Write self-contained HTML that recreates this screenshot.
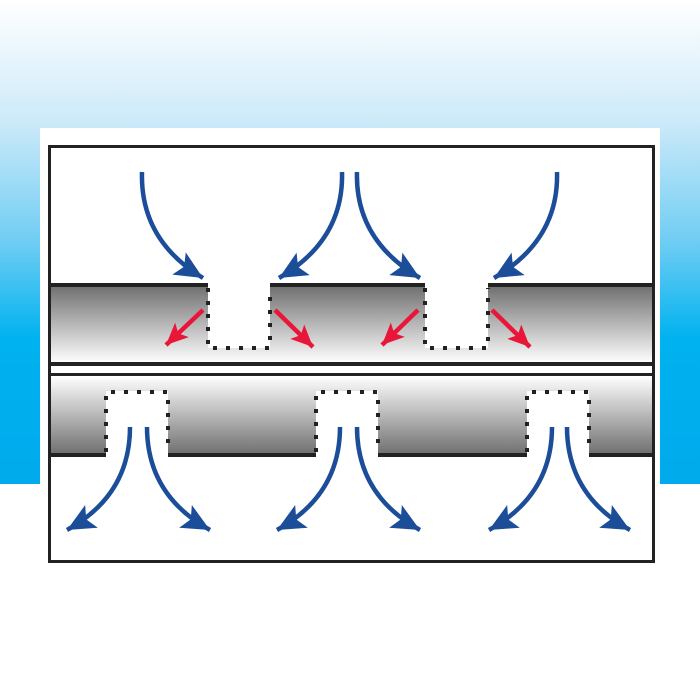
<!DOCTYPE html>
<html><head><style>html,body{margin:0;padding:0;width:700px;height:700px;overflow:hidden;background:#fff}</style></head>
<body>
<svg width="700" height="700" viewBox="0 0 700 700" xmlns="http://www.w3.org/2000/svg">
<defs>
<linearGradient id="sky" x1="0" y1="0" x2="0" y2="1">
<stop offset="0" stop-color="#ffffff"/>
<stop offset="0.25" stop-color="#cdeaf9"/>
<stop offset="0.5" stop-color="#6fcdf3"/>
<stop offset="0.7" stop-color="#00b2ef"/>
<stop offset="1" stop-color="#00aaec"/>
</linearGradient>
<linearGradient id="g1" x1="0" y1="0" x2="0" y2="1">
<stop offset="0" stop-color="#6e6e6e"/><stop offset="1" stop-color="#ffffff"/>
</linearGradient>
<linearGradient id="g2" x1="0" y1="0" x2="0" y2="1">
<stop offset="0" stop-color="#ffffff"/><stop offset="1" stop-color="#6e6e6e"/>
</linearGradient>
<marker id="ab" viewBox="0 0 10 10" refX="0" refY="0" markerWidth="10" markerHeight="10" orient="auto" markerUnits="userSpaceOnUse" style="overflow:visible">
<path d="M-28,-13 L0,0 L-28,13 L-22,0 Z" fill="#1b4d99"/>
</marker>
<marker id="ar" viewBox="0 0 10 10" refX="0" refY="0" markerWidth="10" markerHeight="10" orient="auto" markerUnits="userSpaceOnUse" style="overflow:visible">
<path d="M-22,-10 L0,0 L-22,10 L-17,0 Z" fill="#e8173a"/>
</marker>
</defs>
<rect x="0" y="0" width="700" height="484" fill="url(#sky)"/>
<rect x="40" y="128" width="620" height="572" fill="#fff"/>
<rect x="50" y="285" width="603" height="78" fill="url(#g1)"/>
<rect x="208" y="284" width="62" height="64" fill="#fff"/>
<rect x="425" y="284" width="63" height="64" fill="#fff"/>
<g stroke="#222" stroke-width="4" fill="none">
<path d="M50,285 H208 M270,285 H425 M488,285 H653"/>
<path d="M50,364 H653 M50,375 H653"/>
</g>
<g stroke="#222" stroke-width="4" fill="none" stroke-dasharray="4,9">
<path d="M208,288 V348 H270 V288"/>
<path d="M425,288 V348 H488 V288"/>
</g>
<rect x="50" y="376" width="603" height="79" fill="url(#g2)"/>
<rect x="106" y="391" width="62" height="65" fill="#fff"/>
<rect x="316" y="391" width="62" height="65" fill="#fff"/>
<rect x="527" y="391" width="62" height="65" fill="#fff"/>
<g stroke="#222" stroke-width="4" fill="none">
<path d="M50,455 H106 M168,455 H316 M378,455 H527 M589,455 H653"/>
</g>
<g stroke="#222" stroke-width="4" fill="none" stroke-dasharray="4,9">
<path d="M106,452 V392 H168 V452"/>
<path d="M316,452 V392 H378 V452"/>
<path d="M527,452 V392 H589 V452"/>
</g>
<rect x="49.5" y="146.5" width="604" height="415" fill="none" stroke="#222" stroke-width="3"/>
<g stroke="#1b4d99" stroke-width="4.5" fill="none" marker-end="url(#ab)">
<path d="M142,172 Q140,240 203,278"/>
<path d="M342,172 Q344,240 279,278"/>
<path d="M357,172 Q355,240 420,278"/>
<path d="M557,172 Q559,240 494,278"/>
</g>
<g stroke="#e8173a" stroke-width="4.5" fill="none" marker-end="url(#ar)">
<path d="M203,310 L166,345"/>
<path d="M275,310 L313,347"/>
<path d="M418,310 L382,345"/>
<path d="M492,310 L530,347"/>
</g>
<g stroke="#1b4d99" stroke-width="4.5" fill="none" marker-end="url(#ab)">
<path d="M130,427 Q130,495 67,530"/>
<path d="M147,427 Q147,495 210,530"/>
<path d="M340,427 Q340,495 277,530"/>
<path d="M357,427 Q357,495 420,530"/>
<path d="M552,427 Q552,495 489,530"/>
<path d="M567,427 Q567,495 630,530"/>
</g>
</svg>
</body></html>
